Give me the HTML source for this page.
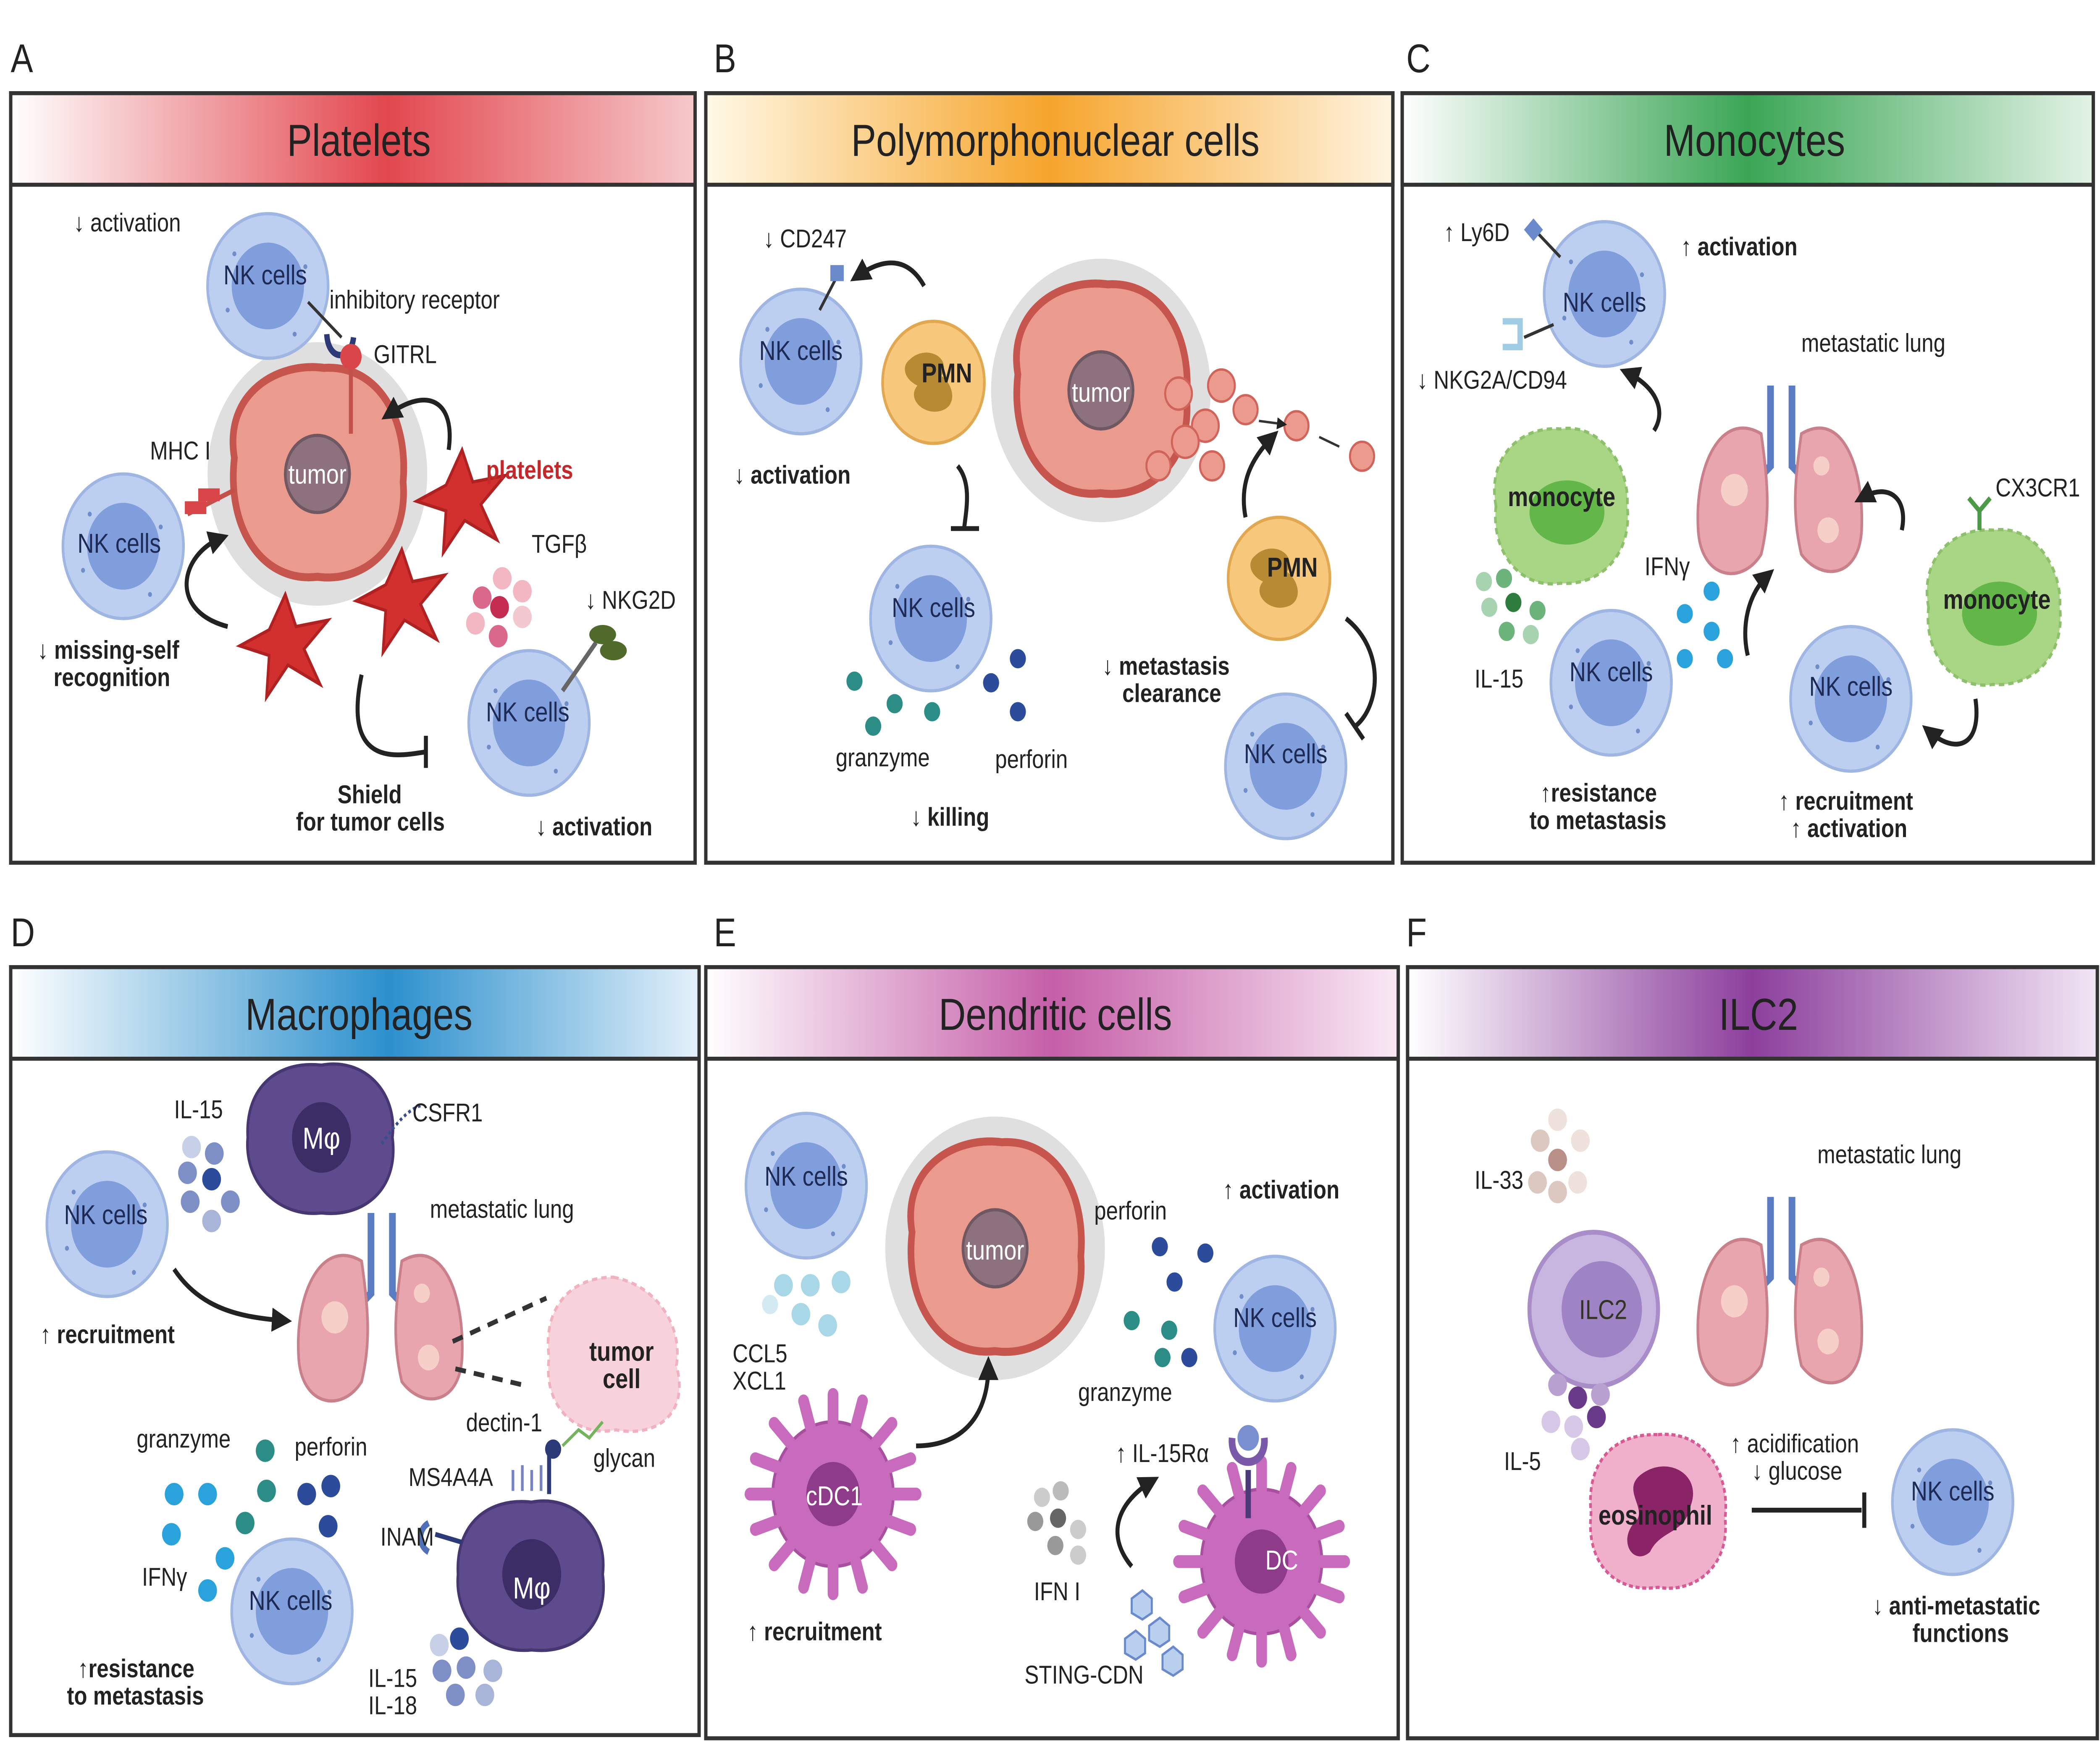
<!DOCTYPE html>
<html><head><meta charset="utf-8"><style>
html,body{margin:0;padding:0;background:#fff;overflow:hidden;width:100vw;height:100vh}
svg{display:block;width:100vw;height:100vh}
text{font-family:"Liberation Sans",sans-serif;fill:#222}
.t{font-size:16px}
.b{font-weight:bold}
.h{font-size:28px;text-anchor:middle}
.L{font-size:25px}
.c{text-anchor:middle}
.nk{font-size:17px;text-anchor:middle;fill:#1d2a55}
</style></head><body>
<svg viewBox="0 0 1568 1098" preserveAspectRatio="none" xmlns="http://www.w3.org/2000/svg">
<defs>
<linearGradient id="gA"><stop offset="0" stop-color="#fff"/><stop offset=".55" stop-color="#e2474e"/><stop offset="1" stop-color="#f6c9cb"/></linearGradient>
<linearGradient id="gB"><stop offset="0" stop-color="#fff9e6"/><stop offset=".5" stop-color="#f6a52c"/><stop offset="1" stop-color="#fff4e0"/></linearGradient>
<linearGradient id="gC"><stop offset="0" stop-color="#fff"/><stop offset=".5" stop-color="#3aa655"/><stop offset="1" stop-color="#e3f3e6"/></linearGradient>
<linearGradient id="gD"><stop offset="0" stop-color="#fff"/><stop offset=".55" stop-color="#2c90cd"/><stop offset="1" stop-color="#e4f1fa"/></linearGradient>
<linearGradient id="gE"><stop offset="0" stop-color="#fff"/><stop offset=".5" stop-color="#c55fa8"/><stop offset="1" stop-color="#f9e9f4"/></linearGradient>
<linearGradient id="gF"><stop offset="0" stop-color="#fff"/><stop offset=".5" stop-color="#8c3f9c"/><stop offset="1" stop-color="#f2e6f5"/></linearGradient>
<marker id="ar" viewBox="0 0 10 10" refX="6" refY="5" markerWidth="5" markerHeight="5" orient="auto"><path d="M0,0L10,5L0,10z" fill="#222"/></marker>
<g id="nk"><circle r="45" fill="#bccff0" stroke="#9fb5e2" stroke-width="2"/><circle r="27" fill="#7f9edb"/><circle cx="-25" cy="-20" r="1.5" fill="#6f8dc8"/><circle cx="28" cy="-12" r="1.5" fill="#6f8dc8"/><circle cx="-30" cy="15" r="1.5" fill="#6f8dc8"/><circle cx="20" cy="30" r="1.5" fill="#6f8dc8"/></g>
<g id="tumor"><circle r="82" fill="#d4d4d4" opacity=".75"/><path d="M-62,-10 C-70,-50 -30,-70 5,-66 C45,-68 68,-35 64,5 C68,45 35,68 0,64 C-40,68 -68,35 -62,-10z" fill="#eb9a8e" stroke="#c6564d" stroke-width="5"/><circle r="24" fill="#8d727e" stroke="#6f5862" stroke-width="2"/></g>
<g id="plt"><path d="M0,-30 L8,-10 L32,-14 L14,4 L26,26 L2,14 L-14,34 L-12,8 L-34,2 L-12,-8z" fill="#d2302f" stroke="#b02222" stroke-width="2"/></g>
<g id="pmn"><circle r="38" fill="#f7c87b" stroke="#e2a851" stroke-width="2"/><path d="M-18,-14 C-6,-24 14,-16 6,-4 C16,2 18,16 4,18 C-8,20 -20,10 -12,2 C-22,-2 -24,-10 -18,-14z" fill="#b98a34"/></g>
<g id="lung"><path d="M-8,-60 L-8,-10 L-25,5 M8,-60 L8,-10 L25,5" stroke="#5a7cc2" stroke-width="5" fill="none"/><path d="M-15,-30 C-45,-45 -65,-10 -62,30 C-60,60 -30,65 -15,45 C-8,20 -10,0 -15,-30z" fill="#e9a5ae" stroke="#c9808a" stroke-width="2"/><path d="M15,-30 C45,-45 62,-10 60,30 C58,60 30,62 15,45 C8,20 10,0 15,-30z" fill="#e9a5ae" stroke="#c9808a" stroke-width="2"/><circle cx="-35" cy="5" r="10" fill="#f6d0c8"/><circle cx="35" cy="30" r="8" fill="#f6d0c8"/><circle cx="30" cy="-10" r="6" fill="#f6d0c8"/></g>
<g id="mono"><path d="M-48,0 C-55,-30 -30,-50 0,-48 C30,-52 52,-25 50,0 C54,30 30,50 0,48 C-30,52 -52,28 -48,0z" fill="#a9d685" stroke="#8cc06a" stroke-width="2" stroke-dasharray="4 3"/><ellipse cx="5" cy="4" rx="28" ry="20" fill="#63b648"/></g>
<g id="mac"><path d="M-55,0 C-57,-32 -32,-48 0,-45 C32,-50 57,-28 53,0 C58,32 32,50 0,47 C-32,50 -58,28 -55,0z" fill="#5d4b8e" stroke="#463672" stroke-width="2"/><circle r="22" fill="#3d2d66"/></g>
<g id="dc"><circle r="45" fill="#c86bbd" stroke="#a94f9f" stroke-width="2"/><g stroke="#c86bbd" stroke-width="8" stroke-linecap="round"><path d="M0,-45 L0,-62 M32,-32 L44,-44 M45,0 L62,0 M32,32 L44,44 M0,45 L0,62 M-32,32 L-44,44 M-45,0 L-62,0 M-32,-32 L-44,-44 M17,-42 L22,-58 M42,-17 L58,-22 M42,17 L58,22 M17,42 L22,58 M-17,42 L-22,58 M-42,17 L-58,22 M-42,-17 L-58,-22 M-17,-42 L-22,-58"/></g><circle r="20" fill="#8e3c8a"/></g>
</defs>
<rect width="1568" height="1098" fill="#fff"/>
<g stroke="#333" stroke-width="2.5">
<rect x="8" y="58" width="511" height="479" fill="#fff"/><rect x="8" y="58" width="511" height="57" fill="url(#gA)"/>
<rect x="527" y="58" width="513" height="479" fill="#fff"/><rect x="527" y="58" width="513" height="57" fill="url(#gB)"/>
<rect x="1047" y="58" width="516" height="479" fill="#fff"/><rect x="1047" y="58" width="516" height="57" fill="url(#gC)"/>
<rect x="8" y="602" width="514" height="478" fill="#fff"/><rect x="8" y="602" width="514" height="57" fill="url(#gD)"/>
<rect x="527" y="602" width="517" height="480" fill="#fff"/><rect x="527" y="602" width="517" height="57" fill="url(#gE)"/>
<rect x="1051" y="602" width="515" height="480" fill="#fff"/><rect x="1051" y="602" width="515" height="57" fill="url(#gF)"/>
</g>
<text class="L" x="8" y="45">A</text><text class="L" x="533" y="45">B</text><text class="L" x="1050" y="45">C</text>
<text class="L" x="8" y="589">D</text><text class="L" x="533" y="589">E</text><text class="L" x="1050" y="589">F</text>
<text class="h" x="268" y="97">Platelets</text><text class="h" x="788" y="97">Polymorphonuclear cells</text><text class="h" x="1310" y="97">Monocytes</text>
<text class="h" x="268" y="641">Macrophages</text><text class="h" x="788" y="641">Dendritic cells</text><text class="h" x="1313" y="641">ILC2</text>

<!-- A -->
<use href="#tumor" transform="translate(237,295)"/>
<use href="#nk" transform="translate(200,178)"/><text class="nk" x="198" y="177">NK cells</text>
<use href="#nk" transform="translate(92,340)"/><text class="nk" x="89" y="344">NK cells</text>
<use href="#nk" transform="translate(395,450)"/><text class="nk" x="394" y="449">NK cells</text>
<text class="nk" x="237" y="301" style="fill:#fff">tumor</text>
<use href="#plt" transform="translate(345,310)"/><use href="#plt" transform="translate(300,372)"/><use href="#plt" transform="translate(213,400)"/>
<path d="M230,188 L255,210" stroke="#333" stroke-width="2"/><path d="M244,208 C245,225 262,225 264,210" stroke="#2c3a78" stroke-width="4" fill="none"/>
<line x1="262" y1="226" x2="262" y2="270" stroke="#c4504a" stroke-width="3"/><circle cx="262" cy="222" r="8" fill="#d9464a"/>
<path d="M140,320 L175,305" stroke="#c4504a" stroke-width="3"/><rect x="138" y="312" width="16" height="8" fill="#d9464a"/><rect x="148" y="304" width="16" height="8" fill="#d9464a"/>
<g fill="none" stroke="#222" stroke-width="3">
<path d="M335,280 C340,250 320,240 290,258" marker-end="url(#ar)"/>
<path d="M170,390 C125,380 135,345 165,335" marker-end="url(#ar)"/>
<path d="M270,420 C255,480 300,470 318,468"/><line x1="318" y1="458" x2="318" y2="478"/>
</g>
<g fill="#d9688a"><circle cx="375" cy="360" r="7" fill="#f3b7c4"/><circle cx="360" cy="372" r="7"/><circle cx="373" cy="378" r="7" fill="#c42c52"/><circle cx="390" cy="368" r="7" fill="#f3b7c4"/><circle cx="355" cy="388" r="7" fill="#f3b7c4"/><circle cx="372" cy="396" r="7"/><circle cx="390" cy="384" r="7" fill="#f3c8d0"/></g>
<path d="M420,430 L445,400" stroke="#666" stroke-width="3"/><ellipse cx="450" cy="395" rx="10" ry="6" fill="#4f6a2a"/><ellipse cx="458" cy="405" rx="10" ry="6" fill="#4f6a2a"/>
<text class="t" x="55" y="144">↓ activation</text><text class="t" x="246" y="192">inhibitory receptor</text><text class="t" x="279" y="226">GITRL</text>
<text class="t" x="112" y="286">MHC I</text><text class="t b" x="363" y="298" style="fill:#c4282a">platelets</text><text class="t" x="397" y="344">TGFβ</text>
<text class="t" x="437" y="379">↓ NKG2D</text><text class="t b" x="28" y="410">↓ missing-self</text><text class="t b" x="40" y="427">recognition</text>
<text class="t b" x="252" y="500">Shield</text><text class="t b" x="221" y="517">for tumor cells</text><text class="t b" x="400" y="520">↓ activation</text>

<!-- B -->
<use href="#tumor" transform="translate(822,243)"/><text class="nk" x="822" y="250" style="fill:#fff">tumor</text>
<g fill="#ec9a8e" stroke="#d0645a" stroke-width="1.5"><circle cx="880" cy="245" r="10"/><circle cx="900" cy="265" r="10"/><circle cx="912" cy="240" r="10"/><circle cx="930" cy="255" r="9"/><circle cx="885" cy="275" r="10"/><circle cx="865" cy="290" r="9"/><circle cx="905" cy="290" r="9"/><circle cx="968" cy="265" r="9"/><circle cx="1017" cy="284" r="9"/></g>
<path d="M985,272 L1000,278 M940,262 L958,264" stroke="#333" stroke-width="1.5" marker-end="url(#ar)"/>
<use href="#nk" transform="translate(598,225)"/><text class="nk" x="598" y="224">NK cells</text>
<use href="#nk" transform="translate(695,385)"/><text class="nk" x="697" y="384">NK cells</text>
<use href="#nk" transform="translate(960,477)"/><text class="nk" x="960" y="475">NK cells</text>
<use href="#pmn" transform="translate(697,238)"/><text class="nk b" x="707" y="238" style="fill:#222">PMN</text>
<use href="#pmn" transform="translate(955,360)"/><text class="nk b" x="965" y="359" style="fill:#222">PMN</text>
<path d="M612,193 L625,172" stroke="#333" stroke-width="2"/><rect x="620" y="165" width="10" height="10" fill="#6a8acb"/>
<g fill="none" stroke="#222" stroke-width="3">
<path d="M690,178 C678,160 660,160 640,172" marker-end="url(#ar)"/>
<path d="M715,290 C725,300 722,315 720,328"/><line x1="710" y1="329" x2="731" y2="329"/>
<path d="M930,322 C925,300 935,285 950,272" marker-end="url(#ar)"/>
<path d="M1005,385 C1035,405 1030,440 1012,452"/><line x1="1005" y1="444" x2="1018" y2="460"/>
</g>
<g fill="#2c8d87"><circle cx="638" cy="424" r="6"/><circle cx="668" cy="438" r="6"/><circle cx="652" cy="452" r="6"/><circle cx="696" cy="443" r="6"/></g>
<g fill="#2c4b9a"><circle cx="760" cy="410" r="6"/><circle cx="740" cy="425" r="6"/><circle cx="760" cy="443" r="6"/></g>
<text class="t" x="570" y="154">↓ CD247</text><text class="t b" x="548" y="301">↓ activation</text><text class="t" x="624" y="477">granzyme</text>
<text class="t" x="743" y="478">perforin</text><text class="t b" x="680" y="514">↓ killing</text><text class="t b" x="823" y="420">↓ metastasis</text><text class="t b" x="838" y="437">clearance</text>

<!-- C -->
<use href="#lung" transform="translate(1330,300)"/>
<use href="#nk" transform="translate(1198,183)"/><text class="nk" x="1198" y="194">NK cells</text>
<use href="#nk" transform="translate(1203,425)"/><text class="nk" x="1203" y="424">NK cells</text>
<use href="#nk" transform="translate(1382,435)"/><text class="nk" x="1382" y="433">NK cells</text>
<use href="#mono" transform="translate(1165,315)"/><text class="nk b" x="1166" y="315" style="fill:#222">monocyte</text>
<use href="#mono" transform="translate(1488,378)"/><text class="nk b" x="1491" y="379" style="fill:#222">monocyte</text>
<path d="M1165,160 L1148,145" stroke="#333" stroke-width="2"/><rect x="1140" y="138" width="10" height="10" fill="#6a8acb" transform="rotate(45 1145 143)"/>
<path d="M1160,202 L1138,210" stroke="#333" stroke-width="2"/><path d="M1122,200 L1135,200 L1135,216 L1122,216" stroke="#9fcde6" stroke-width="4" fill="none"/>
<path d="M1478,330 L1478,318 M1478,318 L1470,310 M1478,318 L1486,310" stroke="#4a9a46" stroke-width="3" fill="none"/>
<g fill="none" stroke="#222" stroke-width="3">
<path d="M1235,268 C1245,255 1235,240 1215,232" marker-end="url(#ar)"/>
<path d="M1420,330 C1425,310 1410,300 1390,310" marker-end="url(#ar)"/>
<path d="M1305,408 C1300,390 1305,370 1320,358" marker-end="url(#ar)"/>
<path d="M1475,435 C1480,465 1460,470 1440,455" marker-end="url(#ar)"/>
</g>
<g fill="#2aa3dc"><circle cx="1278" cy="368" r="6"/><circle cx="1258" cy="382" r="6"/><circle cx="1278" cy="393" r="6"/><circle cx="1258" cy="410" r="6"/><circle cx="1288" cy="410" r="6"/></g>
<g fill="#6cb37c"><circle cx="1108" cy="362" r="6" fill="#a8d3b0"/><circle cx="1123" cy="360" r="6"/><circle cx="1112" cy="378" r="6" fill="#a8d3b0"/><circle cx="1130" cy="375" r="6" fill="#2e7d3e"/><circle cx="1148" cy="380" r="6"/><circle cx="1125" cy="393" r="6"/><circle cx="1143" cy="395" r="6" fill="#a8d3b0"/></g>
<text class="t" x="1078" y="150">↑ Ly6D</text><text class="t b" x="1255" y="159">↑ activation</text><text class="t" x="1058" y="242">↓ NKG2A/CD94</text>
<text class="t" x="1345" y="219">metastatic lung</text><text class="t" x="1490" y="309">CX3CR1</text><text class="t" x="1228" y="358">IFNγ</text>
<text class="t" x="1101" y="428">IL-15</text><text class="t b" x="1150" y="499">↑resistance</text><text class="t b" x="1142" y="516">to metastasis</text>
<text class="t b" x="1328" y="504">↑ recruitment</text><text class="t b" x="1337" y="521">↑ activation</text>

<!-- D -->
<use href="#lung" transform="translate(285,815)"/>
<use href="#nk" transform="translate(80,762)"/><text class="nk" x="79" y="762">NK cells</text>
<use href="#nk" transform="translate(218,1003)"/><text class="nk" x="217" y="1002">NK cells</text>
<use href="#mac" transform="translate(240,708)"/><text class="nk" x="240" y="715" style="fill:#fff;font-size:19px">Mφ</text>
<use href="#mac" transform="translate(397,980)"/><text class="nk" x="397" y="995" style="fill:#fff;font-size:19px">Mφ</text>
<path d="M458,795 C490,800 510,825 505,850 C515,880 490,895 460,890 C430,895 405,875 410,845 C405,815 425,795 458,795z" fill="#f8d2da" stroke="#f0b2c0" stroke-width="2" stroke-dasharray="4 3"/>
<path d="M285,712 C295,700 305,690 315,688" stroke="#3a4d8f" stroke-width="2" fill="none" stroke-dasharray="2 2"/>
<g stroke="#333" stroke-width="3" stroke-dasharray="8 6"><line x1="338" y1="835" x2="408" y2="808"/><line x1="340" y1="852" x2="390" y2="862"/></g>
<path d="M130,790 C150,815 180,820 212,822" stroke="#222" stroke-width="3" fill="none" marker-end="url(#ar)"/>
<g stroke="#7583c4" stroke-width="2" fill="none"><path d="M383,928 L383,915 M390,928 L390,912 M397,928 L397,915 M404,928 L404,912"/></g>
<path d="M410,930 L410,905" stroke="#2c3a78" stroke-width="3"/><circle cx="413" cy="902" r="6" fill="#2c3a78"/>
<path d="M420,900 L432,890 L440,895 L450,885" stroke="#75b35c" stroke-width="2" fill="none"/>
<path d="M345,960 L325,955" stroke="#2c3a78" stroke-width="3"/><path d="M320,948 C312,952 312,962 320,966" stroke="#4f6fb8" stroke-width="4" fill="none"/>
<g fill="#7d8fc4"><circle cx="143" cy="714" r="7" fill="#c8d0e8"/><circle cx="160" cy="718" r="7"/><circle cx="140" cy="730" r="7"/><circle cx="158" cy="734" r="7" fill="#2c4b9a"/><circle cx="142" cy="748" r="7"/><circle cx="172" cy="748" r="7"/><circle cx="158" cy="760" r="7" fill="#a8b4d8"/></g>
<g fill="#7d8fc4"><circle cx="328" cy="1024" r="7" fill="#c8d0e8"/><circle cx="343" cy="1020" r="7" fill="#2c4b9a"/><circle cx="330" cy="1040" r="7"/><circle cx="348" cy="1038" r="7"/><circle cx="368" cy="1040" r="7" fill="#a8b4d8"/><circle cx="340" cy="1055" r="7"/><circle cx="362" cy="1055" r="7" fill="#a8b4d8"/></g>
<g fill="#2aa3dc"><circle cx="130" cy="930" r="7"/><circle cx="155" cy="930" r="7"/><circle cx="128" cy="955" r="7"/><circle cx="168" cy="970" r="7"/><circle cx="155" cy="990" r="7"/></g>
<g fill="#2c8d87"><circle cx="198" cy="903" r="7"/><circle cx="183" cy="948" r="7"/><circle cx="199" cy="928" r="7"/></g>
<g fill="#2c4b9a"><circle cx="229" cy="930" r="7"/><circle cx="247" cy="925" r="7"/><circle cx="245" cy="950" r="7"/></g>
<text class="t" x="130" y="696">IL-15</text><text class="t" x="308" y="698">CSFR1</text><text class="t" x="321" y="758">metastatic lung</text>
<text class="t b" x="30" y="836">↑ recruitment</text><text class="t b" x="440" y="847" style="font-size:17px">tumor</text><text class="t b" x="450" y="864" style="font-size:17px">cell</text>
<text class="t" x="348" y="891">dectin-1</text><text class="t" x="443" y="913">glycan</text><text class="t" x="102" y="901">granzyme</text><text class="t" x="220" y="906">perforin</text>
<text class="t" x="305" y="925">MS4A4A</text><text class="t" x="284" y="962">INAM</text><text class="t" x="106" y="987">IFNγ</text>
<text class="t b" x="58" y="1044">↑resistance</text><text class="t b" x="50" y="1061">to metastasis</text><text class="t" x="275" y="1050">IL-15</text><text class="t" x="275" y="1067">IL-18</text>

<!-- E -->
<use href="#tumor" transform="translate(743,777)"/><text class="nk" x="743" y="784" style="fill:#fff">tumor</text>
<use href="#nk" transform="translate(602,738)"/><text class="nk" x="602" y="738">NK cells</text>
<use href="#nk" transform="translate(952,827)"/><text class="nk" x="952" y="826">NK cells</text>
<use href="#dc" transform="translate(622,930)"/><text class="nk" x="623" y="937" style="fill:#fff">cDC1</text>
<use href="#dc" transform="translate(942,972)"/><text class="nk" x="957" y="977" style="fill:#fff">DC</text>
<path d="M932,945 L932,915" stroke="#4a3a7a" stroke-width="4"/><path d="M920,895 C918,915 946,915 944,895" stroke="#7a5aa8" stroke-width="5" fill="none"/><circle cx="932" cy="895" r="8" fill="#7a8fd0"/>
<g fill="none" stroke="#222" stroke-width="3">
<path d="M684,900 C720,900 738,880 738,850" marker-end="url(#ar)"/>
<path d="M845,975 C825,955 835,935 860,922" marker-end="url(#ar)"/>
</g>
<g fill="#a8d8e8"><circle cx="585" cy="800" r="7"/><circle cx="605" cy="800" r="7"/><circle cx="628" cy="798" r="7"/><circle cx="598" cy="818" r="7"/><circle cx="618" cy="825" r="7"/><circle cx="575" cy="812" r="6" fill="#d4eaf2"/></g>
<g fill="#2c4b9a"><circle cx="866" cy="776" r="6"/><circle cx="900" cy="780" r="6"/><circle cx="877" cy="798" r="6"/><circle cx="888" cy="845" r="6"/></g>
<g fill="#2c8d87"><circle cx="845" cy="822" r="6"/><circle cx="873" cy="828" r="6"/><circle cx="868" cy="845" r="6"/></g>
<g fill="#999"><circle cx="778" cy="932" r="6" fill="#ccc"/><circle cx="792" cy="928" r="6" fill="#bbb"/><circle cx="773" cy="947" r="6"/><circle cx="790" cy="945" r="6" fill="#666"/><circle cx="805" cy="952" r="6" fill="#ccc"/><circle cx="788" cy="962" r="6"/><circle cx="805" cy="968" r="6" fill="#ccc"/></g>
<g fill="#b8d0ee" stroke="#6a8acb" stroke-width="1.5"><polygon points="845,995 853,990 860,995 860,1004 853,1008 845,1004"/><polygon points="858,1012 866,1007 873,1012 873,1021 866,1025 858,1021"/><polygon points="840,1020 848,1015 855,1020 855,1029 848,1033 840,1029"/><polygon points="868,1030 876,1025 883,1030 883,1039 876,1043 868,1039"/></g>
<text class="t" x="817" y="759">perforin</text><text class="t b" x="913" y="746">↑ activation</text><text class="t" x="547" y="848">CCL5</text><text class="t" x="547" y="865">XCL1</text>
<text class="t" x="805" y="872">granzyme</text><text class="t" x="833" y="910">↑ IL-15Rα</text><text class="t" x="772" y="996">IFN I</text>
<text class="t b" x="558" y="1021">↑ recruitment</text><text class="t" x="765" y="1048">STING-CDN</text>

<!-- F -->
<use href="#lung" transform="translate(1330,805)"/>
<circle cx="1190" cy="815" r="48" fill="#c9b6e0" stroke="#a88dc9" stroke-width="3"/><circle cx="1196" cy="815" r="30" fill="#9f84c5"/>
<text class="nk" x="1197" y="821" style="fill:#332">ILC2</text>
<use href="#nk" transform="translate(1458,935)"/><text class="nk" x="1458" y="934">NK cells</text>
<path d="M1238,893 C1275,890 1292,920 1288,945 C1292,975 1265,992 1238,988 C1205,992 1184,972 1188,942 C1184,910 1205,892 1238,893z" fill="#f0b0cc" stroke="#d65a94" stroke-width="2" stroke-dasharray="3 2"/>
<path d="M1225,918 C1245,905 1272,918 1262,938 C1258,955 1240,952 1232,966 C1220,975 1208,960 1220,948 C1232,940 1210,928 1225,918z" fill="#8a2466"/>
<text class="nk b" x="1236" y="949" style="fill:#222">eosinophil</text>
<g fill="#ddc8c0"><circle cx="1163" cy="697" r="7" fill="#efe2dc"/><circle cx="1150" cy="710" r="7"/><circle cx="1180" cy="710" r="7" fill="#efe2dc"/><circle cx="1163" cy="722" r="7" fill="#b89088"/><circle cx="1148" cy="736" r="7"/><circle cx="1178" cy="736" r="7" fill="#efe2dc"/><circle cx="1163" cy="742" r="7"/></g>
<g fill="#b8a0d0"><circle cx="1163" cy="862" r="7"/><circle cx="1178" cy="870" r="7" fill="#6a3a8a"/><circle cx="1195" cy="868" r="7"/><circle cx="1158" cy="885" r="7" fill="#d8c8e8"/><circle cx="1175" cy="888" r="7" fill="#d8c8e8"/><circle cx="1192" cy="882" r="7" fill="#6a3a8a"/><circle cx="1180" cy="902" r="7" fill="#d8c8e8"/></g>
<line x1="1308" y1="940" x2="1390" y2="940" stroke="#222" stroke-width="3"/><line x1="1392" y1="929" x2="1392" y2="951" stroke="#222" stroke-width="3"/>
<text class="t" x="1101" y="740">IL-33</text><text class="t" x="1357" y="724">metastatic lung</text><text class="t" x="1123" y="915">IL-5</text>
<text class="t" x="1292" y="904">↑ acidification</text><text class="t" x="1308" y="921">↓ glucose</text>
<text class="t b" x="1398" y="1005">↓ anti-metastatic</text><text class="t b" x="1428" y="1022">functions</text>
</svg>
</body></html>
